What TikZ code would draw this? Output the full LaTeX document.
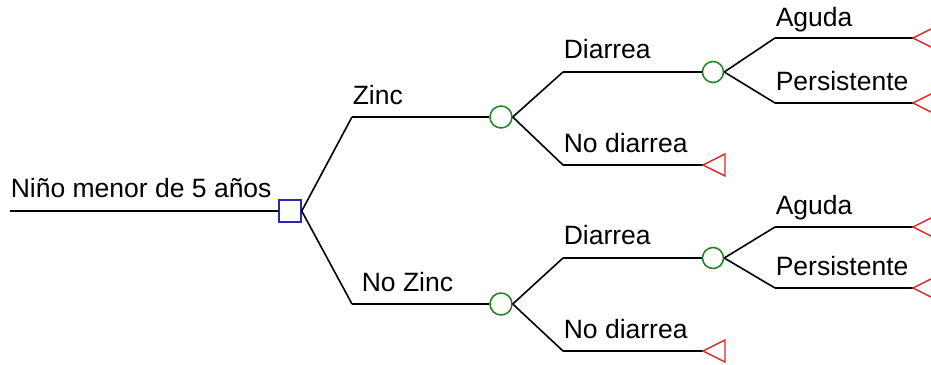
\documentclass[tikz,border=0pt]{standalone}
\usepackage{fontspec}
\setmainfont{Liberation Sans}
\usetikzlibrary{arrows.meta}
\definecolor{decblue}{RGB}{40,40,170}
\definecolor{chgreen}{RGB}{30,130,30}
\definecolor{endred}{RGB}{220,40,40}

\begin{document}
\begin{tikzpicture}[x=1pt,y=-1pt,line width=1.6pt,
		lbl/.style={anchor=base west,inner sep=0pt,font=\fontsize{26.5}{30}\selectfont},
		term/.style={draw=endred,line width=1.4pt}]
		\useasboundingbox (0,0) rectangle (931,364);

		\begin{scope}[every node/.style={draw,inner sep=0pt,line width=1.5pt}]
		    \node[rectangle,draw=decblue,minimum size=22pt] (dec) at (290,211) {};
		    \node[circle,draw=chgreen,minimum size=22pt] (zinc) at (501,117) {};
		    \node[circle,draw=chgreen,minimum size=22pt] (nozinc) at (501,304) {};
		    \node[circle,draw=chgreen,minimum size=21pt] (dia1) at (713,72) {};
		    \node[circle,draw=chgreen,minimum size=21pt] (dia2) at (713,258) {};
		\end{scope}

		% branch corners and ends
		\coordinate (root) at (10,211);
		\coordinate (zc) at (352,117);
		\coordinate (nzc) at (352,304);
		\coordinate (d1c) at (563,72);
		\coordinate (n1c) at (563,165);
		\coordinate (n1e) at (703,165);
		\coordinate (d2c) at (563,258);
		\coordinate (n2c) at (563,351);
		\coordinate (n2e) at (703,351);
		\coordinate (a1c) at (775,38);
		\coordinate (a1e) at (913,38);
		\coordinate (p1c) at (775,103);
		\coordinate (p1e) at (913,103);
		\coordinate (a2c) at (775,227);
		\coordinate (a2e) at (913,227);
		\coordinate (p2c) at (775,288);
		\coordinate (p2e) at (913,288);

		\begin{scope}[every edge/.style={draw=black}]
		    \path (root) edge (dec.west);
		    \path (dec.east) edge (zc) (zc) edge (zinc.west);
		    \path (dec.east) edge (nzc) (nzc) edge (nozinc.west);
		    \path (zinc.east) edge (d1c) (d1c) edge (dia1.west);
		    \path (zinc.east) edge (n1c) (n1c) edge (n1e);
		    \path (nozinc.east) edge (d2c) (d2c) edge (dia2.west);
		    \path (nozinc.east) edge (n2c) (n2c) edge (n2e);
		    \path (dia1.east) edge (a1c) (a1c) edge (a1e);
		    \path (dia1.east) edge (p1c) (p1c) edge (p1e);
		    \path (dia2.east) edge (a2c) (a2c) edge (a2e);
		    \path (dia2.east) edge (p2c) (p2c) edge (p2e);
		\end{scope}

		% terminal triangles
		\foreach \t in {n1e,n2e,a1e,p1e,a2e,p2e}
		    \draw[term] (\t) -- ++(22,-11) -- ++(0,22) -- cycle;

		\node[lbl] (lroot) at (10,197) {Niño menor de 5 años};
		\node[lbl] (lz) at (352,104) {Zinc};
		\node[lbl] (lnz) at (361,291) {No Zinc};
		\node[lbl] (ld1) at (563,58) {Diarrea};
		\node[lbl] (ln1) at (563,152) {No diarrea};
		\node[lbl] (ld2) at (563,244) {Diarrea};
		\node[lbl] (ln2) at (563,338) {No diarrea};
		\node[lbl] (la1) at (775,26) {Aguda};
		\node[lbl] (lp1) at (775,90) {Persistente};
		\node[lbl] (la2) at (775,214) {Aguda};
		\node[lbl] (lp2) at (775,275) {Persistente};
\end{tikzpicture}
\end{document}
